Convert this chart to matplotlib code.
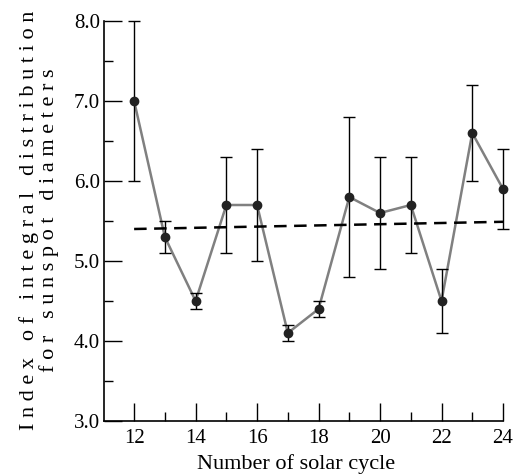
import matplotlib
matplotlib.use("Agg")
import matplotlib.pyplot as plt
import numpy as np

cycles = [12, 13, 14, 15, 16, 17, 18, 19, 20, 21, 22, 23, 24]
index = [7.0, 5.3, 4.5, 5.7, 5.7, 4.1, 4.4, 5.8, 5.6, 5.7, 4.5, 6.6, 5.9]
err_low = [6.0, 5.1, 4.4, 5.1, 5.0, 4.0, 4.3, 4.8, 4.9, 5.1, 4.1, 6.0, 5.4]
err_high = [8.0, 5.5, 4.6, 6.3, 6.4, 4.2, 4.5, 6.8, 6.3, 6.3, 4.9, 7.2, 6.4]
trend_x = [12, 24]
trend_y = [5.40, 5.49]

plt.rcParams['font.family'] = ['Liberation Serif', 'DejaVu Serif']

fig = plt.figure(figsize=(5.19, 4.75), dpi=100)
ax = fig.add_axes([104/519, 54/475, 399/519, 400/475])

x = np.array(cycles)
y = np.array(index)
yerr = np.vstack([y - np.array(err_low), np.array(err_high) - y])

ax.plot(x, y, color='#808080', lw=1.8, zorder=2)
ax.errorbar(x, y, yerr=yerr, fmt='none', ecolor='black', elinewidth=1.0,
            capsize=4.5, capthick=1.0, zorder=3, clip_on=False)
ax.plot(x, y, 'o', color='#222222', ms=6.0, zorder=4, clip_on=False)
ax.plot(trend_x, trend_y, '--', color='black', lw=1.8, dashes=(5, 3), zorder=3)

ax.set_xlim(11.02, 24)
ax.set_ylim(3.0, 8.0)
ax.set_xticks(range(12, 25, 2))
ax.set_xticks(range(13, 24, 2), minor=True)
ax.set_yticks([3.0, 4.0, 5.0, 6.0, 7.0, 8.0])
ax.set_yticks([3.5, 4.5, 5.5, 6.5, 7.5], minor=True)
ax.set_yticklabels([f"{v:.1f}" for v in [3.0, 4.0, 5.0, 6.0, 7.0, 8.0]])

for s in ['top', 'right']:
    ax.spines[s].set_visible(False)
for s in ['left', 'bottom']:
    ax.spines[s].set_linewidth(1.2)

ax.tick_params(axis='both', which='major', direction='in', length=13, width=1.0,
               labelsize=15)
ax.tick_params(axis='both', which='minor', direction='in', length=6.5, width=1.0)
ax.tick_params(axis='y', which='major', pad=3)
ax.tick_params(axis='x', which='major', pad=6)

ax.set_xlabel("Number of solar cycle", fontsize=16)
ax.xaxis.set_label_coords(0.481, -0.082)

def spaced(s):
    return "   ".join(" ".join(w) for w in s.split(" "))

ylab = spaced("Index of integral distribution") + "\n" + spaced("for sunspot diameters")
ax.set_ylabel(ylab, fontsize=16, linespacing=1.0)
ax.yaxis.set_label_coords(-0.112, 0.5025)

fig.savefig("out.png", dpi=100)
